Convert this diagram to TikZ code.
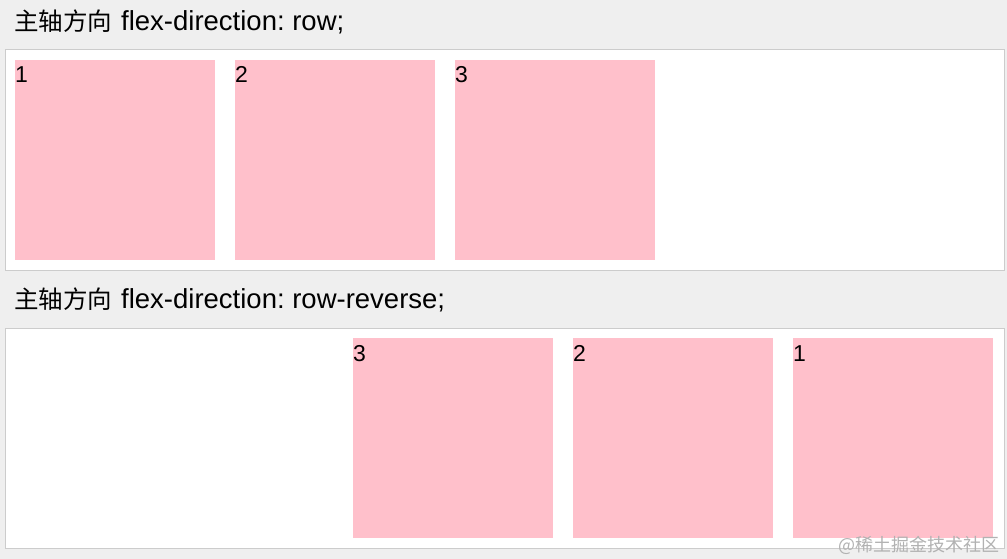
\documentclass[tikz,border=0pt]{standalone}
\usepackage{fontspec}
\setmainfont{Liberation Sans}
\newfontfamily\cjk{Noto Sans CJK SC}
\frenchspacing
\definecolor{pagegray}{HTML}{EFEFEF}
\definecolor{framegray}{HTML}{CCCCCC}
\definecolor{flexpink}{HTML}{FFC0CB}
\tikzset{
  flexbox/.style={draw=framegray, fill=white, line width=1pt},
  item/.style={fill=flexpink, inner sep=0pt, minimum size=200pt, anchor=north west},
  itemnum/.style={anchor=base west, inner sep=0pt, font=\fontsize{23}{23}\selectfont},
  title/.style={anchor=base west, inner sep=0pt, font=\fontsize{27.5}{27.5}\selectfont}
}
\newcommand\zhtitle{{\cjk\fontsize{24.5}{24.5}\selectfont 主轴方向}\hspace{9pt}}
\begin{document}
\begin{tikzpicture}[x=1pt,y=-1pt]
		\fill[pagegray] (0,0) rectangle (1007,559);
		\useasboundingbox (0,0) rectangle (1007,559);
		% row
		\node[title] (t1) at (14,31) {\zhtitle flex-direction: row;};
		\draw[flexbox] (5,50) rectangle (1004,270);
		\foreach \n/\x in {1/15,2/235,3/455} {
			\node[item] (a\n) at (\x,60) {};
			\node[itemnum] (na\n) at ([yshift=-23pt]a\n.north west) {\n};
		}
		% row-reverse
		\node[title] (t2) at (14,308) {\zhtitle flex-direction: row-reverse;};
		\draw[flexbox] (5,328) rectangle (1004,548);
		\foreach \n/\x in {3/353,2/573,1/793} {
			\node[item] (b\n) at (\x,338) {};
			\node[itemnum] (nb\n) at ([yshift=-23pt]b\n.north west) {\n};
		}
		\node[anchor=base east, inner sep=0pt, text=black!30, font=\cjk\fontsize{18}{18}\selectfont] (wm) at (1000,551) {@稀土掘金技术社区};
\end{tikzpicture}
\end{document}
